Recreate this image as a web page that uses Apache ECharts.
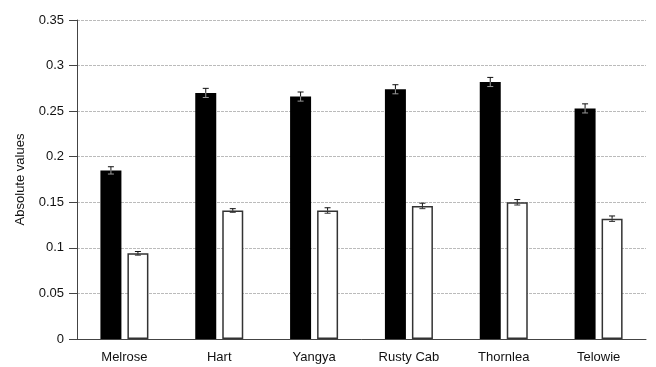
<!DOCTYPE html>
<html><head><meta charset="utf-8">
<script src="https://cdn.jsdelivr.net/npm/echarts@6/dist/echarts.min.js"></script>
<style>html,body{margin:0;padding:0;background:#fff}#c{width:656px;height:367px}</style>
</head><body><div id="c"></div>
<script>
const categories = ['Melrose','Hart','Yangya','Rusty Cab','Thornlea','Telowie'];
const blackValues = [0.185,0.270,0.266,0.274,0.282,0.253];
const blackErrors = [0.004,0.005,0.005,0.005,0.005,0.005];
const whiteValues = [0.094,0.141,0.141,0.146,0.150,0.132];
const whiteErrors = [0.002,0.002,0.003,0.003,0.003,0.003];
const yTicks = [0,0.05,0.1,0.15,0.2,0.25,0.3,0.35];

const chart = echarts.init(document.getElementById('c'));
const BW = 21, GAP = 6;
function errSeries(vals, errs, offset, innerColor){
  return {
    type:'custom', z:5,
    data: vals.map((v,i)=>[i,v,errs[i]]),
    renderItem:(params, api)=>{
      const i=api.value(0), v=api.value(1), e=api.value(2);
      const c=api.coord([i,v]), hi=api.coord([i,v+e]), lo=api.coord([i,v-e]);
      const x=c[0]+offset, cw=3;
      return {type:'group', children:[
        {type:'line', shape:{x1:x,y1:hi[1],x2:x,y2:c[1]}, style:{stroke:'#111',lineWidth:1}},
        {type:'line', shape:{x1:x-cw,y1:hi[1],x2:x+cw,y2:hi[1]}, style:{stroke:'#111',lineWidth:1}},
        {type:'line', shape:{x1:x,y1:c[1],x2:x,y2:lo[1]}, style:{stroke:innerColor,lineWidth:1}},
        {type:'line', shape:{x1:x-cw,y1:lo[1],x2:x+cw,y2:lo[1]}, style:{stroke:innerColor,lineWidth:1}}
      ]};
    }
  };
}
chart.setOption({
  animation:false,
  grid:{left:77,right:10,top:20,bottom:28},
  xAxis:{type:'category',data:categories,
    axisLine:{lineStyle:{color:'#444',width:1}},axisTick:{show:false},
    axisLabel:{color:'#111',fontFamily:'Liberation Sans, Arial',fontSize:13,margin:12}},
  yAxis:{type:'value',min:0,max:0.35,interval:0.05,
    name:'Absolute values',nameLocation:'middle',nameGap:50,
    nameTextStyle:{color:'#111',fontFamily:'Liberation Sans, Arial',fontSize:13},
    axisLine:{show:true,lineStyle:{color:'#444',width:1}},
    axisTick:{show:true,length:8,lineStyle:{color:'#444'}},
    axisLabel:{color:'#111',fontFamily:'Liberation Sans, Arial',fontSize:13,margin:13,
      formatter:v=>{const t=yTicks.find(x=>Math.abs(x-v)<1e-9);return String(t!==undefined?t:v);}},
    splitLine:{show:true,lineStyle:{color:'#bbb',type:[3,1],width:1}}},
  series:[
    {type:'bar',data:blackValues,barWidth:BW,barGap:(GAP/BW*100)+'%',
      itemStyle:{color:'#000'}},
    {type:'bar',data:whiteValues,barWidth:BW,
      itemStyle:{color:'#fff',borderColor:'#333',borderWidth:1.5}},
    errSeries(blackValues,blackErrors,-(BW+GAP)/2,'#999'),
    errSeries(whiteValues,whiteErrors,(BW+GAP)/2,'#333')
  ]
});
</script></body></html>
